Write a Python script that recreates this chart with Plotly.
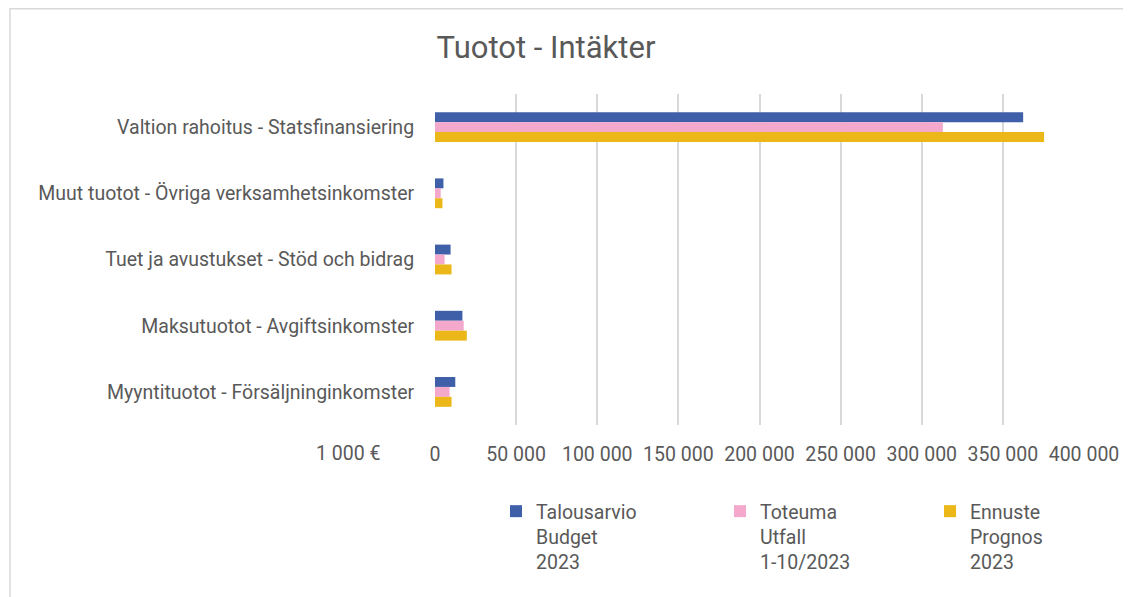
import plotly.graph_objects as go

categories = [
    "Valtion rahoitus - Statsfinansiering",
    "Muut tuotot - Övriga verksamhetsinkomster",
    "Tuet ja avustukset - Stöd och bidrag",
    "Maksutuotot - Avgiftsinkomster",
    "Myyntituotot - Försäljninginkomster",
]
series_names = ["Talousarvio<br>Budget<br>2023", "Toteuma<br>Utfall<br>1-10/2023", "Ennuste<br>Prognos<br>2023"]
budget = [362500, 5200, 9600, 16900, 12500]
actual = [313000, 3500, 5900, 17700, 9000]
forecast = [375400, 4600, 10200, 19600, 10200]
colors = ["#3F5FA8", "#F4A9CC", "#EBB719"]
tick_vals = [0, 50000, 100000, 150000, 200000, 250000, 300000, 350000, 400000]
tick_text = ["0", "50 000", "100 000", "150 000", "200 000", "250 000", "300 000", "350 000", "400 000"]

FONT = "Roboto, Liberation Sans, sans-serif"
GRAY = "#595959"
FS = 19.5

# page body has an 8px margin; figure sized to fit the window
W, H = 1123, 589
L, R, T, B = 427, 47, 86, 172
pw, ph = W - L - R, H - T - B

legend_ids = ["legend", "legend2", "legend3"]
legend_x = [488, 712, 922]

fig = go.Figure()
for name, vals, col, lid in zip(series_names, [budget, actual, forecast], colors, legend_ids):
    fig.add_trace(go.Bar(y=categories, x=vals, name=name, orientation="h", legend=lid,
                         showlegend=True, marker=dict(color=col, line=dict(width=0))))

legend_common = dict(xref="container", yref="container", xanchor="left", yanchor="top",
                     y=1 - 484 / H, valign="top", itemwidth=30, bgcolor="rgba(0,0,0,0)",
                     font=dict(family=FONT, size=FS, color=GRAY), visible=True)

fig.update_layout(
    width=W, height=H, showlegend=True,
    margin=dict(l=L, r=R, t=T, b=B, autoexpand=False),
    paper_bgcolor="white", plot_bgcolor="white",
    barmode="group", bargap=0.55, bargroupgap=0,
    font=dict(family=FONT, size=FS, color=GRAY),
    title=dict(text="Tuotot - Intäkter", x=538 / W, xanchor="center", y=1 - 39 / H, yanchor="middle",
               font=dict(family=FONT, size=31, color=GRAY)),
    xaxis=dict(range=[0, 400000], tickvals=tick_vals, ticktext=tick_text, showgrid=True,
               gridcolor="#D9D9D9", gridwidth=1.5, zeroline=False, showline=False, automargin=False,
               ticks="outside", ticklen=12, tickcolor="rgba(0,0,0,0)",
               tickfont=dict(family=FONT, size=FS, color=GRAY)),
    yaxis=dict(categoryorder="array", categoryarray=categories, autorange="reversed",
               showgrid=False, zeroline=False, showline=False, automargin=False,
               ticks="outside", ticklen=16, tickcolor="rgba(0,0,0,0)",
               tickfont=dict(family=FONT, size=FS, color=GRAY)),
    legend=dict(x=legend_x[0] / W, **legend_common),
    legend2=dict(x=legend_x[1] / W, **legend_common),
    legend3=dict(x=legend_x[2] / W, **legend_common),
    annotations=[dict(text="1 000 €", xref="paper", yref="paper", x=(340 - L) / pw, y=-(445 - (T + ph)) / ph,
                      xanchor="center", yanchor="middle", showarrow=False,
                      font=dict(family=FONT, size=FS, color=GRAY))],
    shapes=[dict(type="path", xref="paper", yref="paper",
                 path=f"M {(2 - L) / pw},{-(H + 5 - (T + ph)) / ph} L {(2 - L) / pw},{(T + ph - 0.8) / ph} L {(W + 5 - L) / pw},{(T + ph - 0.8) / ph}",
                 line=dict(color="#D9D9D9", width=1.5))],
)

fig.write_html("out.html")
